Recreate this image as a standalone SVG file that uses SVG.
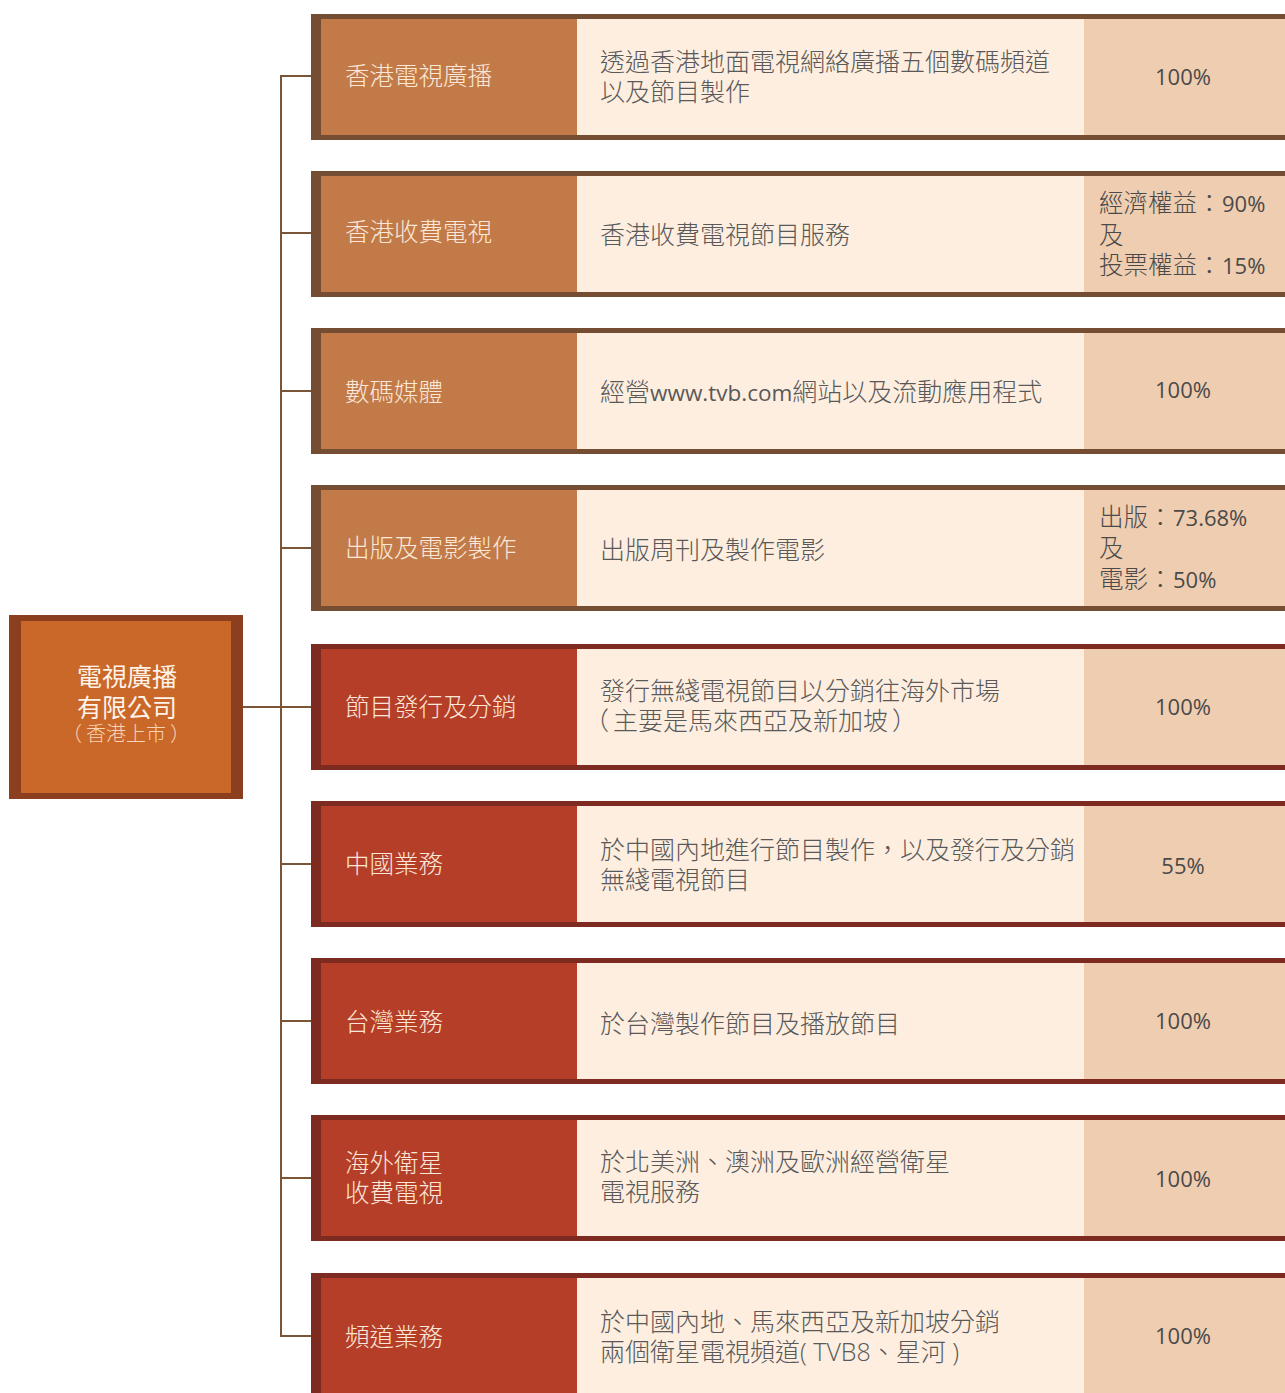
<svg xmlns="http://www.w3.org/2000/svg" width="1285" height="1393" viewBox="0 0 1285 1393">
<style>
text{font-family:"Open Sans","Noto Sans CJK TC",sans-serif}
.cj{font-family:"Noto Sans CJK TC",sans-serif}
.fb{fill:#744D33}.fr{fill:#7D2B20}
.cb{fill:#C27B48}.cr{fill:#B53E28}
.mid{fill:#FDEEE0}.rt{fill:#EFCDB0}
.lab{font-size:24.5px;fill:#FBE7D8;font-weight:300}
.desc{font-size:25px;fill:#595959;font-weight:300}
.lat{font-size:22.5px;font-weight:400}
.pct{font-size:22px;fill:#4a4a4a;text-anchor:middle}
.pct2{font-size:24.5px;fill:#4a4a4a;font-weight:300}
.num{font-weight:400;font-size:22px}
.conn{stroke:#7B5535;stroke-width:2;fill:none}
</style>
<rect width="1285" height="1393" fill="#ffffff"/>
<g id="connectors">
<line class="conn" x1="281" y1="76" x2="281" y2="1337"/>
<line class="conn" x1="243" y1="707" x2="311" y2="707"/>
<line class="conn" x1="280" y1="76" x2="311" y2="76"/>
<line class="conn" x1="281" y1="233" x2="311" y2="233"/>
<line class="conn" x1="281" y1="391" x2="311" y2="391"/>
<line class="conn" x1="281" y1="548" x2="311" y2="548"/>
<line class="conn" x1="281" y1="864" x2="311" y2="864"/>
<line class="conn" x1="281" y1="1021" x2="311" y2="1021"/>
<line class="conn" x1="281" y1="1178" x2="311" y2="1178"/>
<line class="conn" x1="280" y1="1336" x2="311" y2="1336"/>
</g>
<g id="root">
<rect x="9" y="615" width="234" height="184" fill="#8B3F1F"/>
<rect x="21" y="621" width="210" height="172" fill="#C96828"/>
<text x="127" y="686" text-anchor="middle" font-size="25" font-weight="400" fill="#FFF3EA">電視廣播</text>
<text x="127" y="717" text-anchor="middle" font-size="25" font-weight="400" fill="#FFF3EA">有限公司</text>
<text y="741" font-size="20" font-weight="300" fill="#F8D3B8"><tspan class="cj" x="62">（</tspan><tspan class="cj" x="86">香港上市</tspan><tspan class="cj" x="170">）</tspan></text>
</g>
<g id="n1">
<rect class="fb" x="311" y="14" width="974" height="126"/>
<rect class="cb" x="321" y="19" width="256" height="116"/>
<rect class="mid" x="577" y="19" width="507" height="116"/>
<rect class="rt" x="1084" y="19" width="201" height="116"/>
<text class="lab" x="345" y="85">香港電視廣播</text>
<text class="desc" x="600" y="71">透過香港地面電視網絡廣播五個數碼頻道</text>
<text class="desc" x="600" y="101">以及節目製作</text>
<text class="pct" x="1183" y="85">100%</text>
</g>
<g id="n2">
<rect class="fb" x="311" y="171" width="974" height="126"/>
<rect class="cb" x="321" y="176" width="256" height="116"/>
<rect class="mid" x="577" y="176" width="507" height="116"/>
<rect class="rt" x="1084" y="176" width="201" height="116"/>
<text class="lab" x="345" y="241">香港收費電視</text>
<text class="desc" x="600" y="244">香港收費電視節目服務</text>
<text class="pct2" y="212"><tspan x="1099">經濟權益</tspan><tspan class="cj" x="1197">：</tspan><tspan class="num" x="1222">90%</tspan></text>
<text class="pct2" x="1099" y="244">及</text>
<text class="pct2" y="274"><tspan x="1099">投票權益</tspan><tspan class="cj" x="1197">：</tspan><tspan class="num" x="1222">15%</tspan></text>
</g>
<g id="n3">
<rect class="fb" x="311" y="328" width="974" height="126"/>
<rect class="cb" x="321" y="333" width="256" height="116"/>
<rect class="mid" x="577" y="333" width="507" height="116"/>
<rect class="rt" x="1084" y="333" width="201" height="116"/>
<text class="lab" x="345" y="401">數碼媒體</text>
<text class="desc" x="600" y="401">經營<tspan class="lat">www.tvb.com</tspan>網站以及流動應用程式</text>
<text class="pct" x="1183" y="398">100%</text>
</g>
<g id="n4">
<rect class="fb" x="311" y="485" width="974" height="126"/>
<rect class="cb" x="321" y="490" width="256" height="116"/>
<rect class="mid" x="577" y="490" width="507" height="116"/>
<rect class="rt" x="1084" y="490" width="201" height="116"/>
<text class="lab" x="345" y="557">出版及電影製作</text>
<text class="desc" x="600" y="559">出版周刊及製作電影</text>
<text class="pct2" y="526"><tspan x="1099">出版</tspan><tspan class="cj" x="1148">：</tspan><tspan class="num" x="1173">73.68%</tspan></text>
<text class="pct2" x="1099" y="557">及</text>
<text class="pct2" y="588"><tspan x="1099">電影</tspan><tspan class="cj" x="1148">：</tspan><tspan class="num" x="1173">50%</tspan></text>
</g>
<g id="n5">
<rect class="fr" x="311" y="644" width="974" height="126"/>
<rect class="cr" x="321" y="649" width="256" height="116"/>
<rect class="mid" x="577" y="649" width="507" height="116"/>
<rect class="rt" x="1084" y="649" width="201" height="116"/>
<text class="lab" x="345" y="716">節目發行及分銷</text>
<text class="desc" x="600" y="700">發行無綫電視節目以分銷往海外市場</text>
<text class="desc" y="730"><tspan class="cj" x="584">（</tspan><tspan class="cj" x="613">主要是馬來西亞及新加坡</tspan><tspan class="cj" x="892">）</tspan></text>
<text class="pct" x="1183" y="715">100%</text>
</g>
<g id="n6">
<rect class="fr" x="311" y="801" width="974" height="126"/>
<rect class="cr" x="321" y="806" width="256" height="116"/>
<rect class="mid" x="577" y="806" width="507" height="116"/>
<rect class="rt" x="1084" y="806" width="201" height="116"/>
<text class="lab" x="345" y="873">中國業務</text>
<text class="desc" x="600" y="859">於中國內地進行節目製作，以及發行及分銷</text>
<text class="desc" x="600" y="889">無綫電視節目</text>
<text class="pct" x="1183" y="874">55%</text>
</g>
<g id="n7">
<rect class="fr" x="311" y="958" width="974" height="126"/>
<rect class="cr" x="321" y="963" width="256" height="116"/>
<rect class="mid" x="577" y="963" width="507" height="116"/>
<rect class="rt" x="1084" y="963" width="201" height="116"/>
<text class="lab" x="345" y="1031">台灣業務</text>
<text class="desc" x="600" y="1033">於台灣製作節目及播放節目</text>
<text class="pct" x="1183" y="1029">100%</text>
</g>
<g id="n8">
<rect class="fr" x="311" y="1115" width="974" height="126"/>
<rect class="cr" x="321" y="1120" width="256" height="116"/>
<rect class="mid" x="577" y="1120" width="507" height="116"/>
<rect class="rt" x="1084" y="1120" width="201" height="116"/>
<text class="lab" x="345" y="1172">海外衛星</text>
<text class="lab" x="345" y="1202">收費電視</text>
<text class="desc" x="600" y="1171">於北美洲、澳洲及歐洲經營衛星</text>
<text class="desc" x="600" y="1201">電視服務</text>
<text class="pct" x="1183" y="1187">100%</text>
</g>
<g id="n9">
<rect class="fr" x="311" y="1273" width="974" height="126"/>
<rect class="cr" x="321" y="1278" width="256" height="116"/>
<rect class="mid" x="577" y="1278" width="507" height="116"/>
<rect class="rt" x="1084" y="1278" width="201" height="116"/>
<text class="lab" x="345" y="1346">頻道業務</text>
<text class="desc" x="600" y="1331">於中國內地、馬來西亞及新加坡分銷</text>
<text class="desc" x="600" y="1361">兩個衛星電視頻道( TVB8、星河 )</text>
<text class="pct" x="1183" y="1344">100%</text>
</g>
</svg>
